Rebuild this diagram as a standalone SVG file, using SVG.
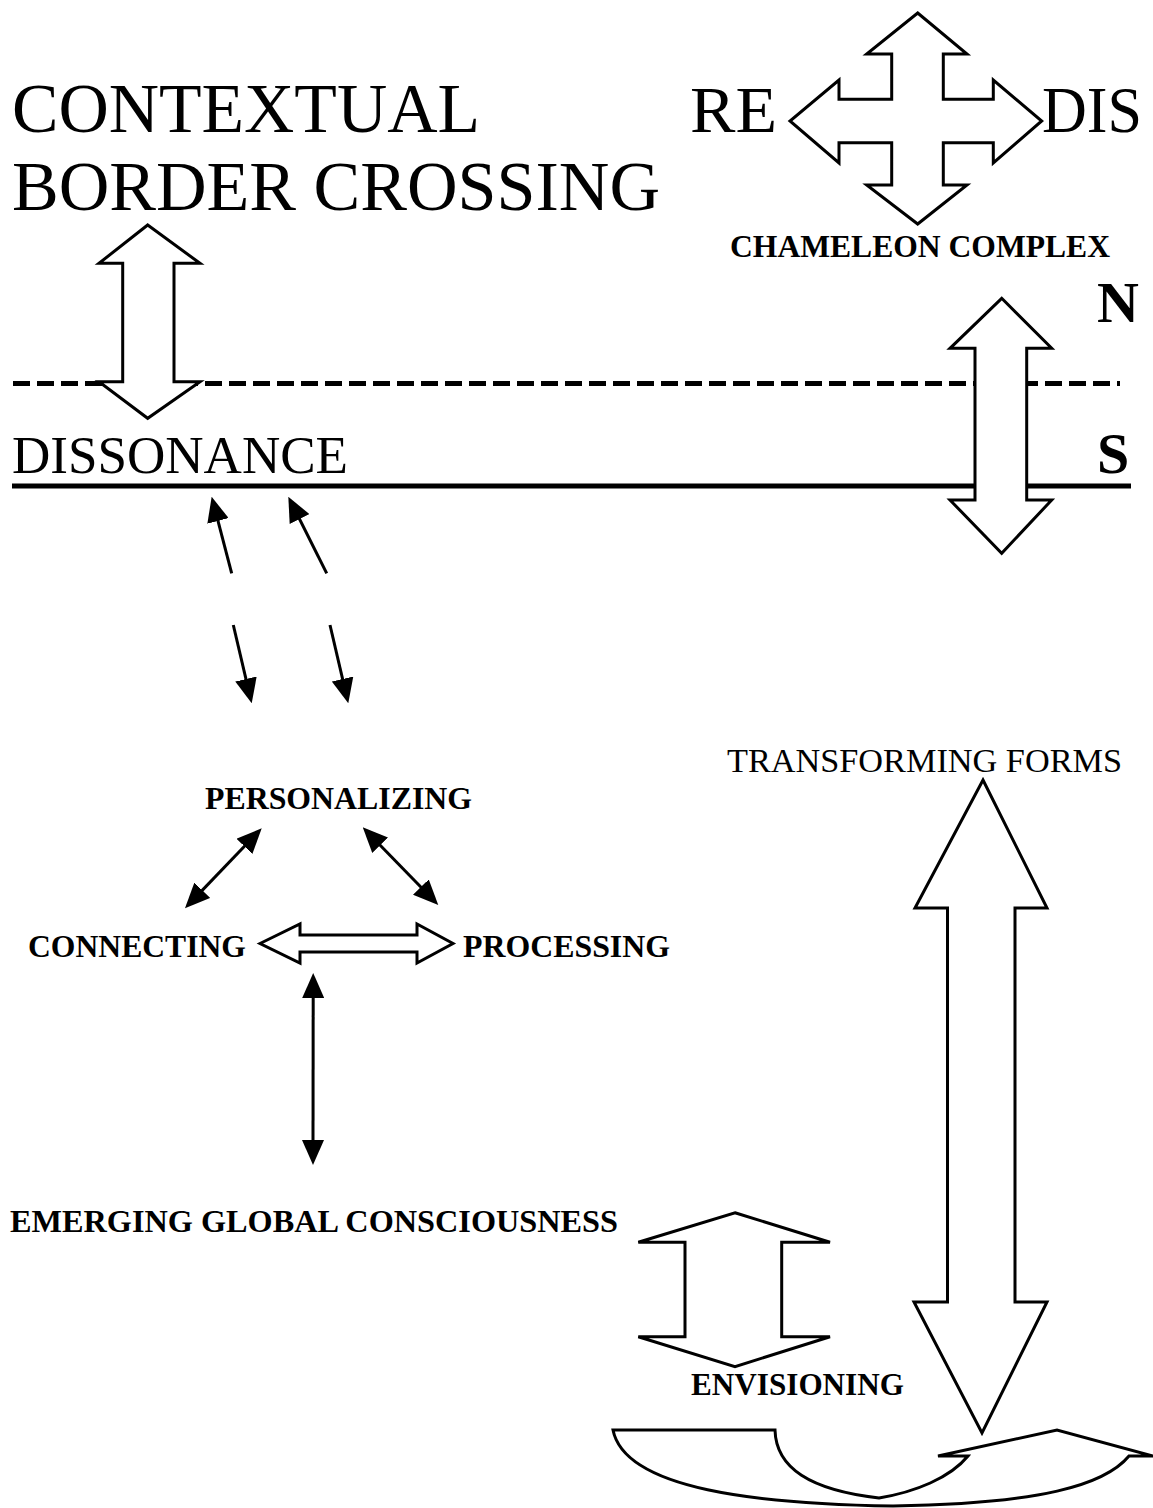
<svg xmlns="http://www.w3.org/2000/svg" width="1153" height="1508" viewBox="0 0 1153 1508">
<style>
text{font-family:"Liberation Serif","Times New Roman",serif;fill:#000}
.big{font-size:70px}
.mid{font-size:66px}
.b{font-weight:bold;font-size:31px}
.open{fill:#fff;stroke:#000;stroke-width:3;stroke-linejoin:miter}
.thin{fill:none;stroke:#000;stroke-width:3}
.rule{fill:none;stroke:#000;stroke-width:5}
</style>
<defs>
<marker id="ah" viewBox="0 0 25 22" refX="15" refY="11" markerWidth="25" markerHeight="22" markerUnits="userSpaceOnUse" orient="auto-start-reverse">
<path d="M0,0 L25,11 L0,22 Z" fill="#000"/>
</marker>
</defs>
<rect width="1153" height="1508" fill="#fff"/>

<g id="lines">
<line class="rule" x1="13" y1="383.5" x2="1120" y2="383.5" stroke-dasharray="17 7"/>
<line class="rule" x1="12" y1="486" x2="1131" y2="486"/>
</g>

<g id="contextual-border-crossing">
<text class="big" x="12" y="132" textLength="468" lengthAdjust="spacingAndGlyphs">CONTEXTUAL</text>
<text class="big" x="12" y="210" textLength="648" lengthAdjust="spacingAndGlyphs">BORDER CROSSING</text>
</g>

<g id="chameleon-complex">
<text class="mid" x="690" y="132" textLength="87" lengthAdjust="spacingAndGlyphs">RE</text>
<text class="mid" x="1042" y="132" textLength="100" lengthAdjust="spacingAndGlyphs">DIS</text>
<polygon class="open" points="917.7,13 967,54 943.3,54 943.3,99.3 993.3,99.3 993.3,80 1041.7,121 993.3,163 993.3,142.7 943.3,142.7 943.3,185 967,185 917.7,224 866.7,185 891.7,185 891.7,142.7 839,142.7 839,163 790,121 839,80 839,99.3 891.7,99.3 891.7,54 866.7,54"/>
<text class="b" x="730" y="257" textLength="380" lengthAdjust="spacingAndGlyphs">CHAMELEON COMPLEX</text>
</g>

<g id="north-south">
<text x="1097" y="322" font-size="58" font-weight="bold">N</text>
<text x="1097" y="473" font-size="58" font-weight="bold">S</text>
</g>

<g id="dissonance">
<text x="12" y="473" font-size="52" textLength="336" lengthAdjust="spacingAndGlyphs">DISSONANCE</text>
</g>

<g id="transforming-forms">
<text x="727" y="772" font-size="34" textLength="395" lengthAdjust="spacingAndGlyphs">TRANSFORMING FORMS</text>
</g>

<g id="personalizing">
<text class="b" x="205" y="809" textLength="267" lengthAdjust="spacingAndGlyphs">PERSONALIZING</text>
</g>
<g id="connecting">
<text class="b" x="28" y="957" textLength="218" lengthAdjust="spacingAndGlyphs">CONNECTING</text>
</g>
<g id="processing">
<text class="b" x="463" y="957" textLength="207" lengthAdjust="spacingAndGlyphs">PROCESSING</text>
</g>
<g id="emerging-global-consciousness">
<text class="b" x="10" y="1232" textLength="608" lengthAdjust="spacingAndGlyphs">EMERGING GLOBAL CONSCIOUSNESS</text>
</g>
<g id="envisioning">
<text class="b" x="691" y="1395" textLength="213" lengthAdjust="spacingAndGlyphs">ENVISIONING</text>
</g>

<g id="connectors">
<polygon class="open" points="147.7,225 200,263.3 174,263.3 174,381.7 200,381.7 147.7,418.3 99,381.7 122.7,381.7 122.7,263.3 99,263.3"/>
<polygon class="open" points="1001.7,298.3 1051.7,348.3 1026.7,348.3 1026.7,500 1051.7,500 1001.7,553.3 950,500 975,500 975,348.3 950,348.3"/>
<line class="thin" x1="231.7" y1="573.3" x2="214.2" y2="506.4" marker-end="url(#ah)"/>
<line class="thin" x1="326.7" y1="573.3" x2="292.8" y2="505.6" marker-end="url(#ah)"/>
<line class="thin" x1="233.3" y1="625" x2="249.4" y2="693.6" marker-end="url(#ah)"/>
<line class="thin" x1="330" y1="625" x2="346" y2="693.6" marker-end="url(#ah)"/>
<line class="thin" x1="254.8" y1="835.5" x2="191.9" y2="901.1" marker-start="url(#ah)" marker-end="url(#ah)"/>
<line class="thin" x1="369.7" y1="834.5" x2="431.3" y2="897.8" marker-start="url(#ah)" marker-end="url(#ah)"/>
<polygon class="open" stroke-width="2.5" points="260,943.5 300,924 300,935 417,935 417,924 453,943.5 417,963 417,952 300,952 300,963"/>
<line class="thin" stroke-width="2.5" x1="313.2" y1="983" x2="313" y2="1155" marker-start="url(#ah)" marker-end="url(#ah)"/>
<polygon class="open" points="983,780 1047,908 1015,908 1015,1302 1047,1302 982,1433 914,1302 947.5,1302 947.5,908 915,908"/>
<polygon class="open" points="735,1212.7 830,1242.3 781.7,1242.3 781.7,1336.7 830,1336.7 735,1366.7 638.3,1336.7 685,1336.7 685,1242.3 638.3,1242.3"/>
<path class="open" d="M613,1430 L775,1430 C776,1468 810,1490 879,1498 C915,1492 950,1478 968,1456 L938,1456 L1057,1430 L1153,1456 L1129,1456 C1105,1485 1040,1504 893,1506 C760,1504 625,1490 613,1430 Z"/>
</g>
</svg>
